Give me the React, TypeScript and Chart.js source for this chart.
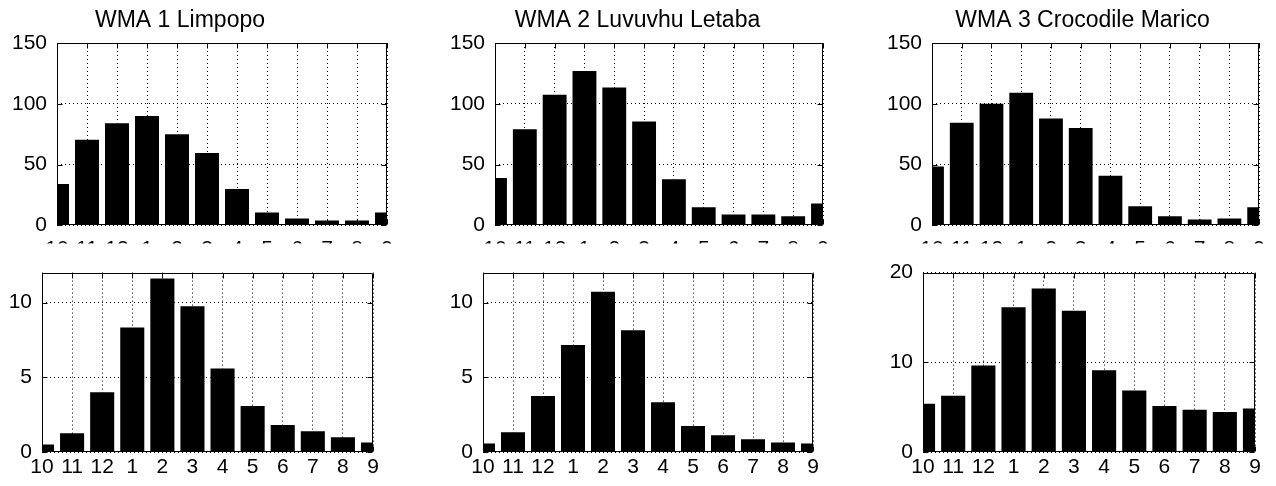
import React, { useEffect, useRef } from 'react';
import { Chart, registerables } from 'chart.js';

Chart.register(...registerables);

// ---- data ----
const months = ['10', '11', '12', '1', '2', '3', '4', '5', '6', '7', '8', '9'];
const titles = ['WMA 1 Limpopo', 'WMA 2 Luvuvhu Letaba', 'WMA 3 Crocodile Marico'];

const limpopoTop = [34, 70.5, 84, 90, 75, 59.5, 30, 10.7, 5.6, 4, 4, 10.7];
const letabaTop = [39, 79, 107.5, 127, 113.5, 85.5, 38, 15, 9, 9, 7.5, 18];
const maricoTop = [48.5, 84.5, 100, 109, 88, 80, 40.8, 15.7, 7.5, 4.8, 5.6, 15];

const limpopoBottom = [0.51, 1.25, 4.0, 8.33, 11.6, 9.75, 5.58, 3.08, 1.8, 1.38, 0.98, 0.63];
const letabaBottom = [0.57, 1.32, 3.75, 7.15, 10.72, 8.15, 3.33, 1.74, 1.12, 0.85, 0.64, 0.57];
const maricoBottom = [5.38, 6.27, 9.63, 16.15, 18.23, 15.75, 9.1, 6.87, 5.13, 4.71, 4.46, 4.85];

const topYMax = 150;
const topYTicks = [0, 50, 100, 150];
const bottomYMax = [12, 12, 20];
const bottomYTicks = [[0, 5, 10], [0, 5, 10], [0, 10, 20]];

// ---- layout (positions only) ----
const FONT = "'Liberation Sans', Arial, Helvetica, sans-serif";

type Panel = {
  values: number[];
  yTicks: number[];
  left: number; top: number; width: number; height: number;
  padTop: number; yW: number; xH: number; padRight: number;
  yMax: number; labelPad: number;
  title?: string; titleX?: number; titleY?: number;
};

const panels: Panel[] = [
  { values: limpopoTop, yTicks: topYTicks, left: 0, top: 0, width: 410, height: 248, padTop: 43, yW: 57, xH: 18, padRight: 23, yMax: topYMax, labelPad: 11, title: titles[0], titleX: 180, titleY: 27 },
  { values: letabaTop, yTicks: topYTicks, left: 430, top: 0, width: 413, height: 248, padTop: 43, yW: 65, xH: 18, padRight: 20, yMax: topYMax, labelPad: 11, title: titles[1], titleX: 207.5, titleY: 27 },
  { values: maricoTop, yTicks: topYTicks, left: 860, top: 0, width: 416, height: 248, padTop: 43, yW: 72, xH: 18, padRight: 15, yMax: topYMax, labelPad: 11, title: titles[2], titleX: 222.5, titleY: 27 },
  { values: limpopoBottom, yTicks: bottomYTicks[0], left: 0, top: 250, width: 400, height: 236, padTop: 13, yW: 42, xH: 34, padRight: 27, yMax: bottomYMax[0], labelPad: 3 },
  { values: letabaBottom, yTicks: bottomYTicks[1], left: 430, top: 250, width: 410, height: 236, padTop: 13, yW: 53, xH: 34, padRight: 27, yMax: bottomYMax[1], labelPad: 3 },
  { values: maricoBottom, yTicks: bottomYTicks[2], left: 860, top: 250, width: 416, height: 236, padTop: 13, yW: 63, xH: 34, padRight: 21, yMax: bottomYMax[2], labelPad: 3 },
];

const framePlugin = {
  id: 'matlabFrame',
  afterDatasetsDraw(chart: any, _args: any, opts: any) {
    const { ctx, chartArea: a } = chart;
    const L = Math.round(a.left) + 0.5;
    const R = Math.round(a.right) - 0.5;
    const T = Math.round(a.top) + 0.5;
    const B = Math.round(a.bottom) - 0.5;
    ctx.save();
    ctx.strokeStyle = '#000';
    ctx.lineWidth = 1;
    ctx.setLineDash([]);
    ctx.beginPath();
    ctx.rect(L, T, R - L, B - T);
    const tl = 5;
    const xs = chart.scales.x;
    xs.ticks.forEach((_t: any, i: number) => {
      const p = Math.round(xs.getPixelForTick(i)) + 0.5;
      ctx.moveTo(p, B); ctx.lineTo(p, B - tl);
      ctx.moveTo(p, T); ctx.lineTo(p, T + tl);
    });
    const ys = chart.scales.y;
    ys.ticks.forEach((_t: any, i: number) => {
      const p = Math.round(ys.getPixelForTick(i)) + 0.5;
      ctx.moveTo(L, p); ctx.lineTo(L + tl, p);
      ctx.moveTo(R, p); ctx.lineTo(R - tl, p);
    });
    ctx.stroke();
    if (opts && opts.title) {
      ctx.fillStyle = '#000';
      ctx.font = `23px ${FONT}`;
      ctx.textAlign = 'center';
      ctx.textBaseline = 'alphabetic';
      ctx.fillText(opts.title, opts.titleX, opts.titleY);
    }
    ctx.restore();
  },
};

function PanelChart({ p }: { p: Panel }) {
  const ref = useRef<HTMLCanvasElement | null>(null);
  useEffect(() => {
    if (!ref.current) return;
    const chart = new Chart(ref.current, {
      type: 'bar',
      data: {
        labels: months,
        datasets: [
          {
            data: p.values,
            backgroundColor: '#000',
            borderWidth: 0,
            barPercentage: 0.8,
            categoryPercentage: 1,
            clip: 0,
          } as any,
        ],
      },
      options: {
        animation: false,
        responsive: false,
        maintainAspectRatio: false,
        devicePixelRatio: 1,
        layout: { padding: { top: p.padTop, left: 0, right: p.padRight, bottom: 0 } },
        plugins: {
          legend: { display: false },
          tooltip: { enabled: false },
          title: { display: false },
          matlabFrame: { title: p.title, titleX: p.titleX, titleY: p.titleY },
        } as any,
        scales: {
          x: {
            type: 'category',
            offset: false,
            grid: { color: '#000', lineWidth: 1, drawTicks: false, offset: false },
            border: { display: false, dash: [1, 3] },
            ticks: {
              color: '#000',
              font: { family: FONT, size: 21, lineHeight: 1.2 },
              padding: p.labelPad,
              maxRotation: 0,
              minRotation: 0,
              autoSkip: false,
            },
            afterFit: (s: any) => { s.height = p.xH; },
          },
          y: {
            min: 0,
            max: p.yMax,
            grid: { color: '#000', lineWidth: 1, drawTicks: false },
            border: { display: false, dash: [1, 3] },
            ticks: {
              color: '#000',
              font: { family: FONT, size: 21, lineHeight: 1.2 },
              padding: 10,
            },
            afterBuildTicks: (s: any) => { s.ticks = p.yTicks.map((v) => ({ value: v })); },
            afterFit: (s: any) => { s.width = p.yW; },
          },
        },
      },
      plugins: [framePlugin as any],
    });
    return () => chart.destroy();
  }, [p]);
  return (
    <canvas
      ref={ref}
      width={p.width}
      height={p.height}
      style={{ position: 'absolute', left: p.left, top: p.top, width: p.width, height: p.height }}
    />
  );
}

export default function App() {
  return (
    <div
      style={{
        position: 'absolute',
        left: 0,
        top: 0,
        width: 1276,
        height: 486,
        background: '#fff',
        overflow: 'hidden',
      }}
    >
      {panels.map((p, i) => (
        <PanelChart key={i} p={p} />
      ))}
    </div>
  );
}
